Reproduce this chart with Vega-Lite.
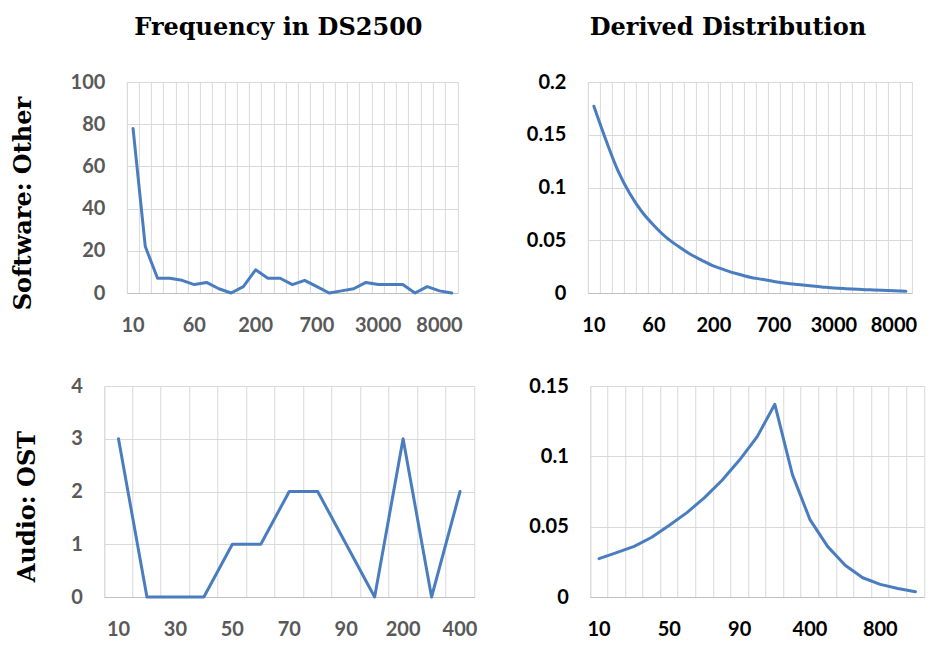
{
  "$schema": "https://vega.github.io/schema/vega-lite/v6.json",
  "padding": {"left": 10, "top": 15, "right": 0, "bottom": 0},
  "background": "white",
  "datasets": {
    "sw_freq": [
      {"bin": 10, "value": 78}, {"bin": 20, "value": 22}, {"bin": 30, "value": 7}, {"bin": 40, "value": 7},
      {"bin": 50, "value": 6}, {"bin": 60, "value": 4}, {"bin": 70, "value": 5}, {"bin": 80, "value": 2},
      {"bin": 90, "value": 0}, {"bin": 100, "value": 3}, {"bin": 200, "value": 11}, {"bin": 300, "value": 7},
      {"bin": 400, "value": 7}, {"bin": 500, "value": 4}, {"bin": 600, "value": 6}, {"bin": 700, "value": 3},
      {"bin": 800, "value": 0}, {"bin": 900, "value": 1}, {"bin": 1000, "value": 2}, {"bin": 2000, "value": 5},
      {"bin": 3000, "value": 4}, {"bin": 4000, "value": 4}, {"bin": 5000, "value": 4}, {"bin": 6000, "value": 0},
      {"bin": 7000, "value": 3}, {"bin": 8000, "value": 1}, {"bin": 9000, "value": 0}
    ],
    "sw_dist": [
      {"bin": 10, "value": 0.177}, {"bin": 20, "value": 0.145}, {"bin": 30, "value": 0.116}, {"bin": 40, "value": 0.094},
      {"bin": 50, "value": 0.077}, {"bin": 60, "value": 0.064}, {"bin": 70, "value": 0.053}, {"bin": 80, "value": 0.0445},
      {"bin": 90, "value": 0.037}, {"bin": 100, "value": 0.031}, {"bin": 200, "value": 0.0255}, {"bin": 300, "value": 0.0215},
      {"bin": 400, "value": 0.018}, {"bin": 500, "value": 0.015}, {"bin": 600, "value": 0.013}, {"bin": 700, "value": 0.011},
      {"bin": 800, "value": 0.0093}, {"bin": 900, "value": 0.008}, {"bin": 1000, "value": 0.0068}, {"bin": 2000, "value": 0.0058},
      {"bin": 3000, "value": 0.0048}, {"bin": 4000, "value": 0.0041}, {"bin": 5000, "value": 0.0035}, {"bin": 6000, "value": 0.003},
      {"bin": 7000, "value": 0.0025}, {"bin": 8000, "value": 0.0021}, {"bin": 9000, "value": 0.0016}
    ],
    "ost_freq": [
      {"bin": 10, "value": 3}, {"bin": 20, "value": 0}, {"bin": 30, "value": 0}, {"bin": 40, "value": 0},
      {"bin": 50, "value": 1}, {"bin": 60, "value": 1}, {"bin": 70, "value": 2}, {"bin": 80, "value": 2},
      {"bin": 90, "value": 1}, {"bin": 100, "value": 0}, {"bin": 200, "value": 3}, {"bin": 300, "value": 0},
      {"bin": 400, "value": 2}
    ],
    "ost_dist": [
      {"bin": 10, "value": 0.0273}, {"bin": 20, "value": 0.0315}, {"bin": 30, "value": 0.036}, {"bin": 40, "value": 0.0425},
      {"bin": 50, "value": 0.051}, {"bin": 60, "value": 0.06}, {"bin": 70, "value": 0.0706}, {"bin": 80, "value": 0.083},
      {"bin": 90, "value": 0.0975}, {"bin": 100, "value": 0.114}, {"bin": 200, "value": 0.137}, {"bin": 300, "value": 0.087},
      {"bin": 400, "value": 0.055}, {"bin": 500, "value": 0.036}, {"bin": 600, "value": 0.0225}, {"bin": 700, "value": 0.0137},
      {"bin": 800, "value": 0.009}, {"bin": 900, "value": 0.006}, {"bin": 1000, "value": 0.0038}
    ]
  },
  "config": {
    "font": "Lato",
    "view": {"stroke": "#d9d9d9", "strokeWidth": 1},
    "axis": {
      "labelFont": "Lato",
      "labelFontSize": 20,
      "labelFontWeight": "bold",
      "gridColor": "#d9d9d9",
      "gridWidth": 1,
      "ticks": false,
      "tickSize": 0,
      "domain": false,
      "labelPadding": 22,
      "titleFont": "DejaVu Serif",
      "titleFontSize": 24,
      "titleFontWeight": "bold",
      "titleColor": "black"
    },
    "axisX": {"domain": true, "domainColor": "#bfbfbf", "domainWidth": 1},
    "title": {"font": "DejaVu Serif", "fontSize": 24, "fontWeight": "bold", "color": "black", "frame": "group", "anchor": "middle", "offset": 32}
  },
  "center": true,
  "spacing": 39,
  "vconcat": [
    {
      "spacing": 62,
      "hconcat": [
        {
          "width": 331, "height": 211,
          "title": {"text": "Frequency in DS2500", "dx": -14},
          "data": {"name": "sw_freq"},
          "mark": {"type": "line", "color": "#4a7dbf", "strokeWidth": 3, "strokeCap": "round", "strokeJoin": "round"},
          "encoding": {
            "x": {"field": "bin", "type": "ordinal", "bandPosition": 0.5,
              "scale": {"type": "band", "paddingInner": 0, "paddingOuter": 0},
              "axis": {"title": null, "grid": true, "bandPosition": 0, "labelAngle": 0, "labelOverlap": false, "labelColor": "#595959",
                "labelExpr": "indexof([10,60,200,700,3000,8000], datum.value) >= 0 ? datum.label : ''"}},
            "y": {"field": "value", "type": "quantitative", "scale": {"domain": [0, 100]},
              "axis": {"title": "Software: Other", "values": [0, 20, 40, 60, 80, 100], "grid": true, "labelColor": "#595959", "titlePadding": 35, "titleY": 121,
                "labelExpr": "datum.value + ''"}}
          }
        },
        {
          "width": 324, "height": 211,
          "title": {"text": "Derived Distribution", "dx": -22},
          "data": {"name": "sw_dist"},
          "mark": {"type": "line", "color": "#4a7dbf", "strokeWidth": 3, "strokeCap": "round", "strokeJoin": "round", "interpolate": "monotone"},
          "encoding": {
            "x": {"field": "bin", "type": "ordinal", "bandPosition": 0.5,
              "scale": {"type": "band", "paddingInner": 0, "paddingOuter": 0},
              "axis": {"title": null, "grid": true, "bandPosition": 0, "labelAngle": 0, "labelOverlap": false, "labelColor": "black",
                "labelExpr": "indexof([10,60,200,700,3000,8000], datum.value) >= 0 ? datum.label : ''"}},
            "y": {"field": "value", "type": "quantitative", "scale": {"domain": [0, 0.2]},
              "axis": {"title": null, "values": [0, 0.05, 0.1, 0.15, 0.2], "grid": true, "labelColor": "black",
                "labelExpr": "datum.value + ''"}}
          }
        }
      ]
    },
    {
      "spacing": 49,
      "hconcat": [
        {
          "width": 370, "height": 211,
          "data": {"name": "ost_freq"},
          "mark": {"type": "line", "color": "#4a7dbf", "strokeWidth": 3, "strokeCap": "round", "strokeJoin": "round"},
          "encoding": {
            "x": {"field": "bin", "type": "ordinal", "bandPosition": 0.5,
              "scale": {"type": "band", "paddingInner": 0, "paddingOuter": 0},
              "axis": {"title": null, "grid": true, "bandPosition": 0, "labelAngle": 0, "labelOverlap": false, "labelColor": "#595959",
                "labelExpr": "indexof([10,30,50,70,90,200,400], datum.value) >= 0 ? datum.label : ''"}},
            "y": {"field": "value", "type": "quantitative", "scale": {"domain": [0, 4]},
              "axis": {"title": "Audio: OST", "values": [0, 1, 2, 3, 4], "grid": true, "labelColor": "#595959", "titlePadding": 31, "titleY": 120,
                "labelExpr": "datum.value + ''"}}
          }
        },
        {
          "width": 334, "height": 211,
          "title": {"text": " ", "orient": "right", "fontSize": 4, "offset": 11},
          "data": {"name": "ost_dist"},
          "mark": {"type": "line", "color": "#4a7dbf", "strokeWidth": 3, "strokeCap": "round", "strokeJoin": "round"},
          "encoding": {
            "x": {"field": "bin", "type": "ordinal", "bandPosition": 0.5,
              "scale": {"type": "band", "paddingInner": 0, "paddingOuter": 0},
              "axis": {"title": null, "grid": true, "bandPosition": 0, "labelAngle": 0, "labelOverlap": false, "labelColor": "black",
                "labelExpr": "indexof([10,50,90,400,800], datum.value) >= 0 ? datum.label : ''"}},
            "y": {"field": "value", "type": "quantitative", "scale": {"domain": [0, 0.15]},
              "axis": {"title": null, "values": [0, 0.05, 0.1, 0.15], "grid": true, "labelColor": "black",
                "labelExpr": "datum.value + ''"}}
          }
        }
      ]
    }
  ]
}
